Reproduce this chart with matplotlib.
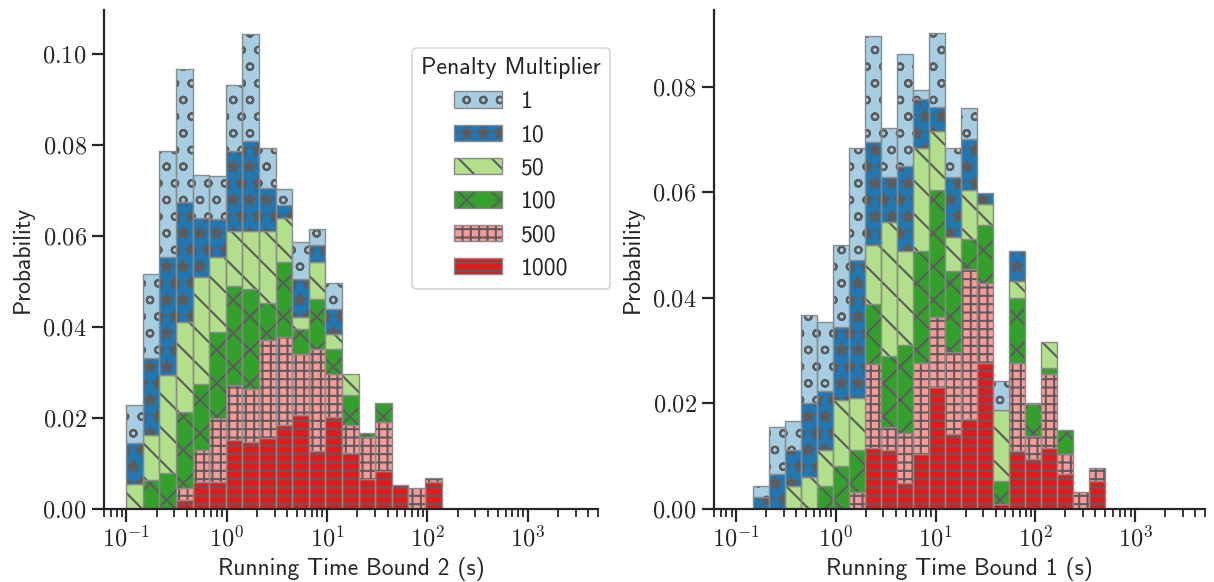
import numpy as np
import matplotlib
matplotlib.use("Agg")
import matplotlib.pyplot as plt
from matplotlib.patches import Patch
from matplotlib.legend_handler import HandlerTuple
from matplotlib.ticker import FuncFormatter, LogLocator, MultipleLocator, NullFormatter

penalties = ["1", "10", "50", "100", "500", "1000"]
colors = ["#a6cee3", "#1f78b4", "#b2df8a", "#33a02c", "#fb9a99", "#e31a1c"]
hatches = ["o", "*", "\\", "x", "++", "--"]

# histogram range (s) and number of bins
b2_range = (0.1, 138.0, 19)
b1_range = (0.147, 493.0, 22)

# Running Time Bound 2: top of the stack after each penalty level (bottom = 1000)
b2_top_1000 = [0, 0, 0, 0.0020, 0.0059, 0.0059, 0.0152, 0.0148, 0.0157, 0.0185, 0.0207, 0.0128, 0.0202, 0.0124, 0.0067, 0.0084, 0.0053, 0, 0.0059]
b2_top_500 = [0, 0, 0, 0.0047, 0.0130, 0.0201, 0.0273, 0.0263, 0.0372, 0.0379, 0.0341, 0.0351, 0.0297, 0.0185, 0.0158, 0.0192, 0.0053, 0.0047, 0.0069]
b2_top_100 = [0, 0.0064, 0.0080, 0.0213, 0.0274, 0.0390, 0.0490, 0.0483, 0.0452, 0.0544, 0.0395, 0.0461, 0.0351, 0.0251, 0.0168, 0.0234, 0.0053, 0.0047, 0.0069]
b2_top_50 = [0.0056, 0.0163, 0.0295, 0.0412, 0.0511, 0.0555, 0.0612, 0.0612, 0.0612, 0.0639, 0.0423, 0.0544, 0.0384, 0.0296, 0.0168, 0.0234, 0.0053, 0.0047, 0.0069]
b2_top_10 = [0.0146, 0.0333, 0.0555, 0.0675, 0.0639, 0.0637, 0.0788, 0.0810, 0.0705, 0.0668, 0.0505, 0.0580, 0.0439, 0.0296, 0.0168, 0.0234, 0.0053, 0.0047, 0.0069]
b2_top_1 = [0.0228, 0.0516, 0.0788, 0.0968, 0.0734, 0.0732, 0.0933, 0.1045, 0.0793, 0.0703, 0.0586, 0.0615, 0.0496, 0.0296, 0.0168, 0.0234, 0.0053, 0.0047, 0.0069]

# Running Time Bound 1
b1_top_1000 = [0, 0, 0, 0, 0, 0, 0, 0.0115, 0.0111, 0.0050, 0.0104, 0.0231, 0.0143, 0.0171, 0.0276, 0.0010, 0.0109, 0.0095, 0.0115, 0.0067, 0, 0.0054]
b1_top_500 = [0, 0, 0, 0, 0, 0, 0.0033, 0.0274, 0.0155, 0.0144, 0.0277, 0.0364, 0.0298, 0.0454, 0.0428, 0.0010, 0.0277, 0.0138, 0.0255, 0.0105, 0.0033, 0.0078]
b1_top_100 = [0, 0, 0, 0, 0.0044, 0.0082, 0.0111, 0.0388, 0.0290, 0.0310, 0.0489, 0.0605, 0.0450, 0.0511, 0.0538, 0.0054, 0.0400, 0.0198, 0.0267, 0.0149, 0.0033, 0.0078]
b1_top_50 = [0, 0, 0.0044, 0.0060, 0.0111, 0.0206, 0.0210, 0.0500, 0.0544, 0.0489, 0.0683, 0.0716, 0.0516, 0.0605, 0.0578, 0.0187, 0.0432, 0.0201, 0.0316, 0.0149, 0.0033, 0.0078]
b1_top_10 = [0.0022, 0.0066, 0.0111, 0.0200, 0.0223, 0.0345, 0.0472, 0.0695, 0.0628, 0.0649, 0.0777, 0.0761, 0.0628, 0.0700, 0.0599, 0.0187, 0.0489, 0.0201, 0.0316, 0.0149, 0.0033, 0.0078]
b1_top_1 = [0.0044, 0.0155, 0.0166, 0.0367, 0.0355, 0.0500, 0.0683, 0.0896, 0.0722, 0.0861, 0.0794, 0.0901, 0.0683, 0.0760, 0.0599, 0.0243, 0.0489, 0.0201, 0.0316, 0.0149, 0.0033, 0.0078]

plt.rcParams["font.family"] = "cmss10"
plt.rcParams["mathtext.fontset"] = "cm"
plt.rcParams["axes.unicode_minus"] = False
plt.rcParams["hatch.linewidth"] = 1.5
plt.rcParams["axes.formatter.use_mathtext"] = True

DARK = "#262626"
EDGE = "#8a8a8a"
HATCH = "#5c5c5c"


def draw(ax, rng, tops, xlabel, ymax):
    lo, hi, n = rng
    edges = np.logspace(np.log10(lo), np.log10(hi), n + 1)
    widths = np.diff(edges)
    bottom = np.zeros(n)
    # tops go from bottom layer (1000) to top layer (1)
    for k, top in enumerate(tops):
        i = len(tops) - 1 - k
        top = np.array(top)
        h = top - bottom
        m = h > 0
        # hatch follows edgecolor, so fill+hatch first, then the light outline
        ax.bar(edges[:-1][m], h[m], width=widths[m], bottom=bottom[m], align="edge",
               color=colors[i], edgecolor=HATCH, linewidth=0, hatch=hatches[i])
        ax.bar(edges[:-1][m], h[m], width=widths[m], bottom=bottom[m], align="edge",
               fill=False, edgecolor=EDGE, linewidth=1.0)
        bottom = top

    ax.set_xscale("log")
    ax.set_xlim(0.06, 5000)
    ax.set_ylim(0, ymax)
    ax.xaxis.set_major_locator(LogLocator(base=10, numticks=10))
    ax.xaxis.set_minor_locator(LogLocator(base=10, subs=np.arange(2, 10), numticks=100))
    ax.xaxis.set_major_formatter(FuncFormatter(lambda v, p: r"$10^{%d}$" % round(np.log10(v))))
    ax.xaxis.set_minor_formatter(NullFormatter())
    ax.yaxis.set_major_locator(MultipleLocator(0.02))
    ax.yaxis.set_major_formatter(FuncFormatter(lambda v, p: r"$%.2f$" % v))

    for s in ["top", "right"]:
        ax.spines[s].set_visible(False)
    for s in ["left", "bottom"]:
        ax.spines[s].set_linewidth(1.6)
        ax.spines[s].set_color(DARK)
    ax.tick_params(which="major", length=9, width=1.6, color=DARK, labelsize=17.5, labelcolor=DARK)
    ax.tick_params(which="minor", length=6, width=1.3, color=DARK)
    ax.set_xlabel(xlabel, fontsize=17, color=DARK)
    ax.set_ylabel("Probability", fontsize=17, color=DARK, labelpad=6)


fig = plt.figure(figsize=(12.14, 5.82), dpi=100)
ax1 = fig.add_axes([0.0857, 0.1254, 0.4069, 0.8574])
ax2 = fig.add_axes([0.5881, 0.1254, 0.4044, 0.8574])

draw(ax1, b2_range, [b2_top_1000, b2_top_500, b2_top_100, b2_top_50, b2_top_10, b2_top_1],
     "Running Time Bound 2 (s)", 0.1097)
draw(ax2, b1_range, [b1_top_1000, b1_top_500, b1_top_100, b1_top_50, b1_top_10, b1_top_1],
     "Running Time Bound 1 (s)", 0.0945)

handles = [(Patch(facecolor=colors[i], edgecolor=HATCH, linewidth=0, hatch=hatches[i]),
            Patch(fill=False, edgecolor=EDGE, linewidth=1.0)) for i in range(len(penalties))]
leg = ax1.legend(handles=handles, labels=penalties, title="Penalty Multiplier", loc="upper left",
                 handler_map={tuple: HandlerTuple(ndivide=1, pad=0)},
                 bbox_to_anchor=(0.623, 0.924), borderaxespad=0, fontsize=17, title_fontsize=17.3,
                 handlelength=2.0, handleheight=0.7, labelspacing=0.48, handletextpad=0.8,
                 frameon=True, fancybox=True, edgecolor="#cccccc")
leg.get_frame().set_linewidth(1.2)
for t in leg.get_texts():
    t.set_color(DARK)
leg.get_title().set_color(DARK)

fig.savefig("out.png", dpi=100)
